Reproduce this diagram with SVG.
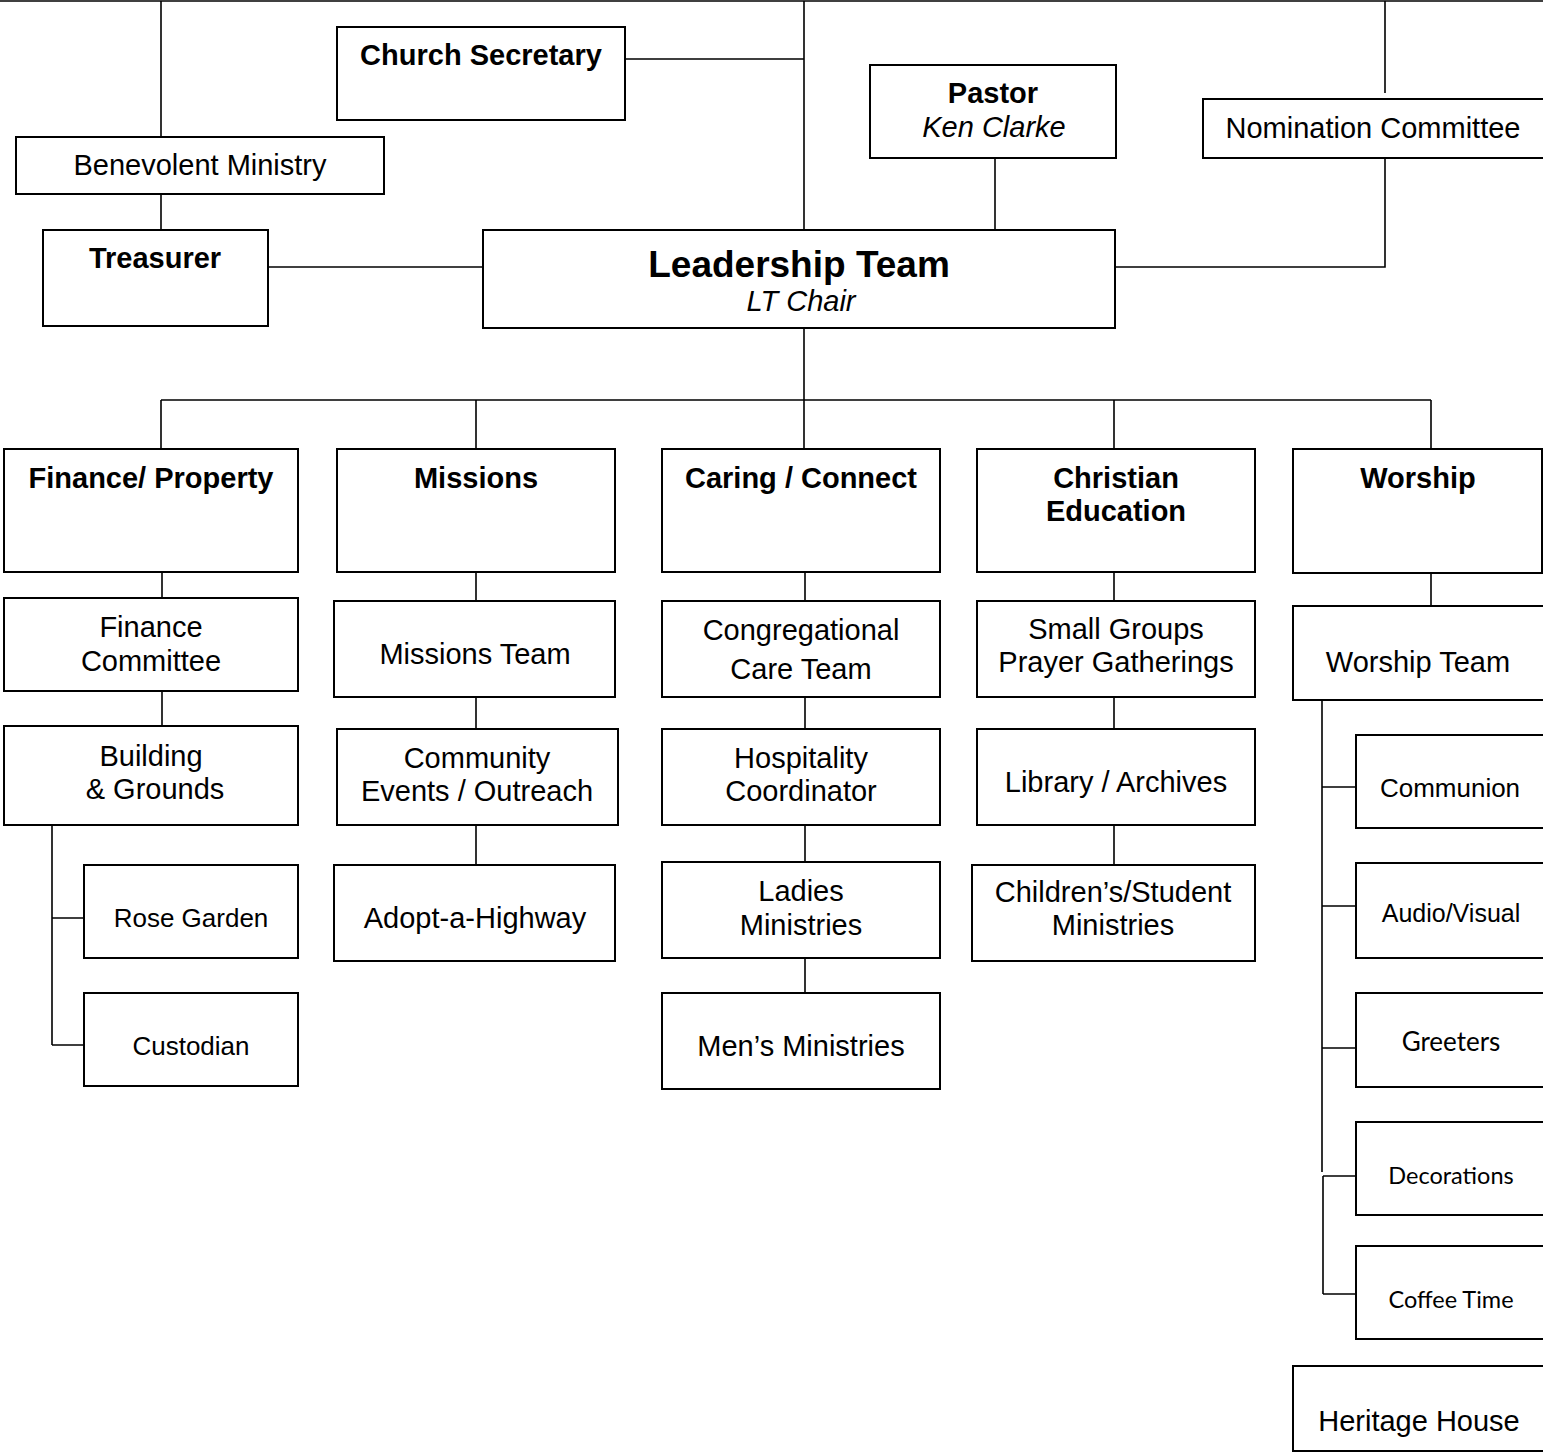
<svg xmlns="http://www.w3.org/2000/svg" width="1543" height="1452" viewBox="0 0 1543 1452">
<style>
.b{fill:#fff;stroke:#000;stroke-width:2}
.c{fill:none;stroke:#000;stroke-width:1.6}
text{font-family:"Liberation Sans",Arial,sans-serif;font-size:29px;fill:#000;text-anchor:middle}
.bd{font-weight:bold}
.it{font-style:italic}
.big{font-size:37px;font-weight:bold}
.sm{font-size:26px}
.ca{font-family:Lato,"Open Sans",sans-serif;font-size:23.5px}
</style>
<rect width="1543" height="1452" fill="#fff"/>
<g id="connectors">
<path class="c" d="M0 1H1543"/>
<path class="c" d="M161 1V137M161 194V230"/>
<path class="c" d="M804 1V230M625 59H804"/>
<path class="c" d="M1385 1V93M1385 158V267H1115"/>
<path class="c" d="M995 158V232"/>
<path class="c" d="M268 267H483"/>
<path class="c" d="M804 328V449M161 400H1431M161 400V449M476 400V449M1114 400V449M1431 400V449"/>
<path class="c" d="M162 572V598M162 691V726M52 825V1045M52 918H84M52 1045H84"/>
<path class="c" d="M476 572V601M476 697V729M476 825V865"/>
<path class="c" d="M805 572V601M805 697V729M805 825V862M805 958V993"/>
<path class="c" d="M1114 572V601M1114 697V729M1114 825V865"/>
<path class="c" d="M1431 573V606M1322 700V1172M1322 787H1356M1322 906H1356M1322 1048H1356M1323 1176V1294M1323 1176H1356M1323 1294H1356"/>
</g>
<g id="church-secretary"><rect class="b" x="337" y="27" width="288" height="93"/><text class="bd" x="481" y="65">Church Secretary</text></g>
<g id="benevolent"><rect class="b" x="16" y="137" width="368" height="57"/><text x="200" y="175">Benevolent Ministry</text></g>
<g id="treasurer"><rect class="b" x="43" y="230" width="225" height="96"/><text class="bd" x="155" y="268">Treasurer</text></g>
<g id="leadership"><rect class="b" x="483" y="230" width="632" height="98"/><text class="big" x="799" y="277">Leadership Team</text><text class="it" x="801" y="311">LT Chair</text></g>
<g id="pastor"><rect class="b" x="870" y="65" width="246" height="93"/><text class="bd" x="993" y="103">Pastor</text><text class="it" x="994" y="137">Ken Clarke</text></g>
<g id="nomination"><rect class="b" x="1203" y="99" width="345" height="59"/><text x="1373" y="138">Nomination Committee</text></g>

<g id="finance-property"><rect class="b" x="4" y="449" width="294" height="123"/><text class="bd" x="151" y="488">Finance/ Property</text></g>
<g id="finance-committee"><rect class="b" x="4" y="598" width="294" height="93"/><text x="151" y="637">Finance</text><text x="151" y="671">Committee</text></g>
<g id="building"><rect class="b" x="4" y="726" width="294" height="99"/><text x="151" y="766">Building</text><text x="155" y="799">&amp; Grounds</text></g>
<g id="rose-garden"><rect class="b" x="84" y="865" width="214" height="93"/><text class="sm" x="191" y="927">Rose Garden</text></g>
<g id="custodian"><rect class="b" x="84" y="993" width="214" height="93"/><text class="sm" x="191" y="1055">Custodian</text></g>

<g id="missions"><rect class="b" x="337" y="449" width="278" height="123"/><text class="bd" x="476" y="488">Missions</text></g>
<g id="missions-team"><rect class="b" x="334" y="601" width="281" height="96"/><text x="475" y="664">Missions Team</text></g>
<g id="community"><rect class="b" x="337" y="729" width="281" height="96"/><text x="477" y="768">Community</text><text x="477" y="801">Events / Outreach</text></g>
<g id="adopt"><rect class="b" x="334" y="865" width="281" height="96"/><text x="475" y="928">Adopt-a-Highway</text></g>

<g id="caring"><rect class="b" x="662" y="449" width="278" height="123"/><text class="bd" x="801" y="488">Caring / Connect</text></g>
<g id="congregational"><rect class="b" x="662" y="601" width="278" height="96"/><text x="801" y="640">Congregational</text><text x="801" y="679">Care Team</text></g>
<g id="hospitality"><rect class="b" x="662" y="729" width="278" height="96"/><text x="801" y="768">Hospitality</text><text x="801" y="801">Coordinator</text></g>
<g id="ladies"><rect class="b" x="662" y="862" width="278" height="96"/><text x="801" y="901">Ladies</text><text x="801" y="935">Ministries</text></g>
<g id="mens"><rect class="b" x="662" y="993" width="278" height="96"/><text x="801" y="1056">Men’s Ministries</text></g>

<g id="christian-ed"><rect class="b" x="977" y="449" width="278" height="123"/><text class="bd" x="1116" y="488">Christian</text><text class="bd" x="1116" y="521">Education</text></g>
<g id="small-groups"><rect class="b" x="977" y="601" width="278" height="96"/><text x="1116" y="639">Small Groups</text><text x="1116" y="672">Prayer Gatherings</text></g>
<g id="library"><rect class="b" x="977" y="729" width="278" height="96"/><text x="1116" y="792">Library / Archives</text></g>
<g id="childrens"><rect class="b" x="972" y="865" width="283" height="96"/><text x="1113" y="902">Children’s/Student</text><text x="1113" y="935">Ministries</text></g>

<g id="worship"><rect class="b" x="1293" y="449" width="249" height="124"/><text class="bd" x="1418" y="488">Worship</text></g>
<g id="worship-team"><rect class="b" x="1293" y="606" width="260" height="94"/><text x="1418" y="672">Worship Team</text></g>
<g id="communion"><rect class="b" x="1356" y="735" width="197" height="93"/><text class="sm" x="1450" y="797">Communion</text></g>
<g id="audio-visual"><rect class="b" x="1356" y="863" width="197" height="95"/><text class="sm" x="1451" y="922" style="font-size:25px">Audio/Visual</text></g>
<g id="greeters"><rect class="b" x="1356" y="993" width="197" height="94"/><text class="ca" x="1451" y="1051" style="font-size:26px">Greeters</text></g>
<g id="decorations"><rect class="b" x="1356" y="1122" width="197" height="93"/><text class="ca" x="1451" y="1184">Decorations</text></g>
<g id="coffee-time"><rect class="b" x="1356" y="1246" width="197" height="93"/><text class="ca" x="1451" y="1308">Coffee Time</text></g>
<g id="heritage"><rect class="b" x="1293" y="1366" width="260" height="85"/><text x="1419" y="1431">Heritage House</text></g>
</svg>
